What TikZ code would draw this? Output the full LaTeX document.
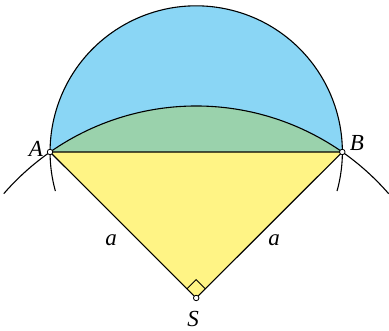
\documentclass[tikz,border=0pt]{standalone}
\usepackage{fontspec}
\setmainfont{Liberation Serif}
\definecolor{bluef}{RGB}{138,214,245}
\definecolor{greenf}{RGB}{154,210,172}
\definecolor{yellowf}{RGB}{255,244,133}
\tikzset{
  dot/.style={circle,draw=black,fill=white,line width=0.8pt,inner sep=0pt,minimum size=5.5pt},
  lbl/.style={font=\fontsize{23}{27}\selectfont\itshape,inner sep=0pt},
  edge/.style={line width=1.1pt,line join=round}
}
\begin{document}
\begin{tikzpicture}[x=1pt,y=1pt]
\useasboundingbox (0,0) rectangle (389,331);
\coordinate (A) at (50,179);
\coordinate (B) at (342.3,179);
\coordinate (S) at (196.2,33);
\coordinate (M) at (196.2,179);
\coordinate (C) at (196.2,-30);
% fills
\fill[bluef] (B) arc[start angle=0,end angle=180,radius=146.15] -- cycle;
\fill[greenf] (A) arc[start angle=124.97,end angle=55.03,radius=255] -- cycle;
\fill[yellowf] (A) -- (B) -- (S) -- cycle;
% strokes
\draw[edge] (M) ++(-15.5:146.15) arc[start angle=-15.5,end angle=195.5,radius=146.15];
\draw[edge] (C) ++(41:255) arc[start angle=41,end angle=139,radius=255];
\draw[edge] (A) -- (B) -- (S) -- cycle;
\draw[line width=0.9pt] (S) ++(135:13) -- ++(45:13) -- ++(-45:13);
% points
\node[dot] (dA) at (A) {};
\node[dot] (dB) at (B) {};
\node[dot] (dS) at (S) {};
% labels
\node[lbl] (lA) at (36,182) {A};
\node[lbl] (lB) at (357,188) {B};
\node[lbl] (lS) at (193,12) {S};
\node[lbl] (la1) at (111,91) {a};
\node[lbl] (la2) at (274,91) {a};
\end{tikzpicture}
\end{document}
